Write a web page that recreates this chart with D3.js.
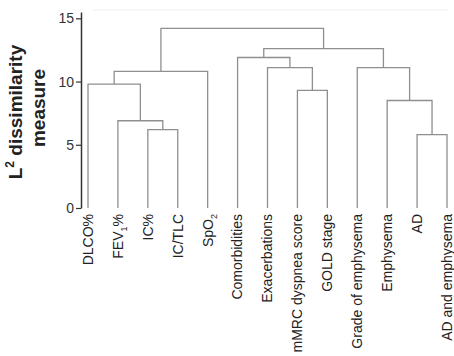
<!DOCTYPE html>
<html>
<head>
<meta charset="utf-8">
<script src="https://cdn.jsdelivr.net/npm/d3@7"></script>
<style>
  html, body { margin: 0; padding: 0; background: #fff; }
  text { font-family: "Liberation Sans", Arial, Helvetica, sans-serif; }
</style>
</head>
<body>
<svg id="chart" width="454" height="356"></svg>
<script>
// Leaf labels: [main text, subscript, trailing text]
const leafMain = ["DLCO%", "FEV", "IC%", "IC/TLC", "SpO", "Comorbidities", "Exacerbations",
  "mMRC dyspnea score", "GOLD stage", "Grade of emphysema", "Emphysema", "AD", "AD and emphysema"];
const leafSub = ["", "1", "", "", "2", "", "", "", "", "", "", "", ""];
const leafTail = ["", "%", "", "", "", "", "", "", "", "", "", "", ""];

// Linkage: node ids 0..12 are leaves, merges create ids 13, 14, ...
const mergeLeft   = [2, 1, 0, 15, 11, 10, 9, 7, 6, 5, 22, 16];
const mergeRight  = [3, 13, 14, 4, 12, 17, 18, 8, 20, 21, 19, 23];
const mergeHeight = [6.2, 6.9, 9.8, 10.8, 5.8, 8.5, 11.1, 9.3, 11.1, 11.9, 12.6, 14.2];

const yTicks = [0, 5, 10, 15];

const svg = d3.select("#chart");
const nLeaves = leafMain.length;

const x = d3.scalePoint().domain(d3.range(nLeaves)).range([88, 447]);
const y = d3.scaleLinear().domain([0, 15.5]).range([208, 12]);

// faint top frame line
svg.append("line")
  .attr("x1", 93).attr("x2", 448).attr("y1", 10).attr("y2", 10)
  .attr("stroke", "#f0f0f0").attr("stroke-width", 1);

// build node positions
const nodeX = [], nodeH = [];
for (let i = 0; i < nLeaves; i++) { nodeX.push(x(i)); nodeH.push(0); }

const g = svg.append("g").attr("fill", "none").attr("stroke", "#8f8f8f").attr("stroke-width", 1.3);
mergeLeft.forEach((l, k) => {
  const r = mergeRight[k], h = mergeHeight[k];
  const xl = nodeX[l], xr = nodeX[r];
  g.append("path")
    .attr("d", `M${xl},${y(nodeH[l])}V${y(h)}H${xr}V${y(nodeH[r])}`);
  nodeX.push((xl + xr) / 2);
  nodeH.push(h);
});

// y axis
const axis = svg.append("g")
  .attr("transform", "translate(81,0)")
  .call(d3.axisLeft(y).tickValues(yTicks).tickSize(5).tickSizeOuter(0).tickPadding(2));
axis.select(".domain").attr("stroke", "#333").attr("stroke-width", 1.5);
axis.selectAll(".tick line").attr("stroke", "#333").attr("stroke-width", 1.2);
axis.selectAll(".tick text").attr("font-size", 14).attr("fill", "#333")
  .attr("font-family", "Liberation Sans, Arial, sans-serif");

// leaf labels
const labels = svg.append("g");
d3.range(nLeaves).forEach(i => {
  const t = labels.append("text")
    .attr("transform", `translate(${x(i)},214) rotate(-90)`)
    .attr("text-anchor", "end")
    .attr("dy", "0.35em")
    .attr("font-size", 14)
    .attr("fill", "#222");
  t.append("tspan").text(leafMain[i]);
  if (leafSub[i]) {
    t.append("tspan").attr("font-size", 9).attr("dy", 4).text(leafSub[i]);
    if (leafTail[i]) t.append("tspan").attr("dy", -4).text(leafTail[i]);
  }
});

// y axis title
const yt1 = svg.append("text")
  .attr("transform", "translate(22,112) rotate(-90)")
  .attr("text-anchor", "middle")
  .attr("font-size", 19).attr("font-weight", "bold").attr("fill", "#222");
yt1.append("tspan").text("L");
yt1.append("tspan").attr("font-size", 12).attr("dy", -8).text("2");
yt1.append("tspan").attr("dy", 8).text(" dissimilarity");

svg.append("text")
  .attr("transform", "translate(45,108) rotate(-90)")
  .attr("text-anchor", "middle")
  .attr("font-size", 19).attr("font-weight", "bold").attr("fill", "#222")
  .text("measure");
</script>
</body>
</html>
